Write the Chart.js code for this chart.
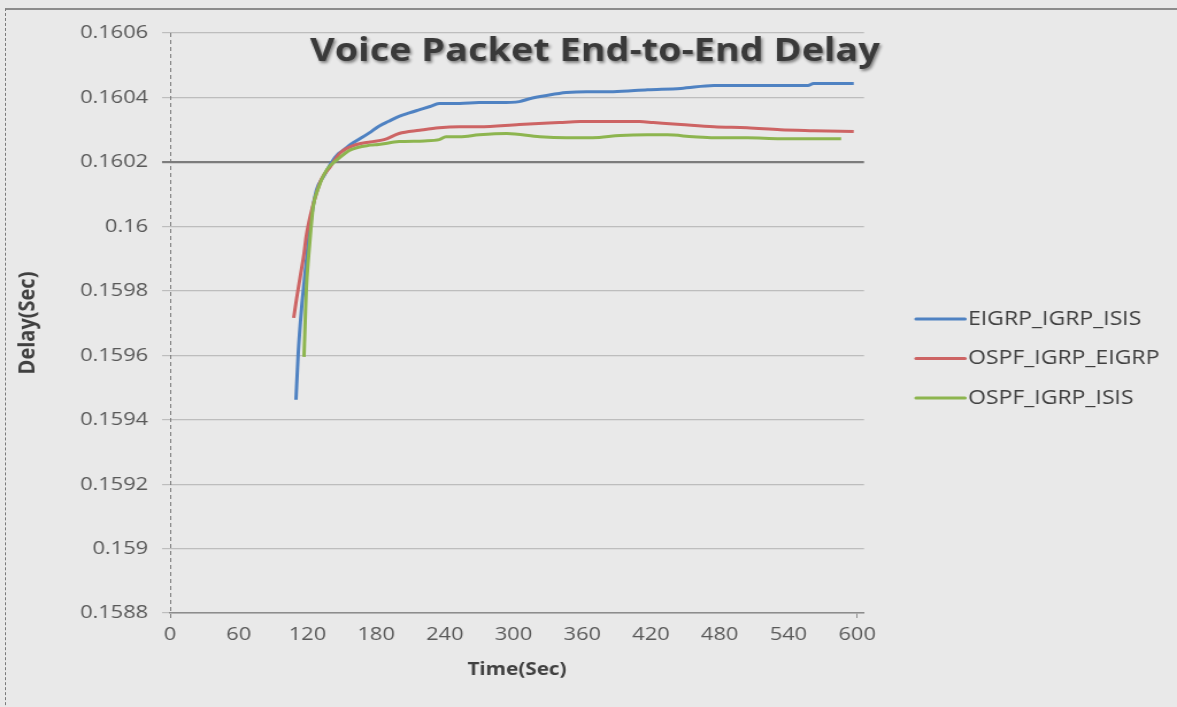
<!DOCTYPE html>
<html>
<head>
<meta charset="utf-8">
<title>Voice Packet End-to-End Delay</title>
<script src="https://cdn.jsdelivr.net/npm/chart.js@4.4.1/dist/chart.umd.min.js"></script>
<style>
  html, body { margin: 0; padding: 0; background: #e9e9e9; overflow: hidden; width: 1177px; height: 707px; }
  #frame { position: absolute; left: 5px; top: 8px; width: 1300px; height: 800px;
           border-top: 2px solid #8c8c8c; border-left: 1px dashed #7a7a7a; }
  /* the drawing is rendered narrow and widened horizontally */
  #wrap { position: absolute; left: 0; top: 0; width: 1024px; height: 707px;
          transform: scaleX(1.1494140625); transform-origin: 0 0; }
</style>
</head>
<body>
<div id="frame"></div>
<div id="wrap"><canvas id="c"></canvas></div>
<script>
// ---- data ----
const seriesNames = ['EIGRP_IGRP_ISIS', 'OSPF_IGRP_EIGRP', 'OSPF_IGRP_ISIS'];

const eigrpIsisTime  = [110, 112, 115, 118, 121, 124, 128, 134, 141, 147, 152, 158, 165, 174, 182, 191, 200, 209, 218, 227, 235, 253, 270, 288, 305, 314, 329, 346, 364, 387, 417, 446, 475, 504, 533, 557, 562, 597];
const eigrpIsisDelay = [0.159462, 0.159608, 0.159750, 0.159856, 0.159959, 0.160042, 0.160114, 0.160154, 0.160198, 0.160225, 0.160238, 0.160255, 0.160270, 0.160290, 0.160310, 0.160326, 0.160341, 0.160352, 0.160362, 0.160372, 0.160381, 0.160381, 0.160384, 0.160384, 0.160387, 0.160396, 0.160406, 0.160415, 0.160418, 0.160418, 0.160424, 0.160428, 0.160437, 0.160437, 0.160437, 0.160437, 0.160443, 0.160443];

const ospfEigrpTime  = [108, 110.5, 114, 117, 119, 123, 127, 132, 140, 149, 163, 175, 187, 200, 218, 235, 253, 270, 305, 340, 358, 387, 410, 422, 446, 475, 504, 533, 562, 597];
const ospfEigrpDelay = [0.159716, 0.159775, 0.159850, 0.159915, 0.159970, 0.160040, 0.160092, 0.160145, 0.160185, 0.160229, 0.160254, 0.160262, 0.160269, 0.160288, 0.160298, 0.160306, 0.160309, 0.160309, 0.160316, 0.160322, 0.160325, 0.160325, 0.160325, 0.160322, 0.160316, 0.160309, 0.160306, 0.160300, 0.160297, 0.160294];

const ospfIsisTime  = [117, 118, 119, 121, 123, 125, 130, 137, 146, 158, 175, 182, 200, 222, 235, 241, 253, 270, 294, 323, 346, 369, 393, 417, 434, 457, 475, 504, 533, 586];
const ospfIsisDelay = [0.159595, 0.159701, 0.159803, 0.159906, 0.159990, 0.160061, 0.160123, 0.160176, 0.160207, 0.160238, 0.160252, 0.160254, 0.160263, 0.160265, 0.160269, 0.160278, 0.160278, 0.160284, 0.160288, 0.160278, 0.160275, 0.160275, 0.160282, 0.160284, 0.160284, 0.160278, 0.160275, 0.160275, 0.160272, 0.160272];

const xTicks = [0, 60, 120, 180, 240, 300, 360, 420, 480, 540, 600];
const yTicks = [0.1588, 0.159, 0.1592, 0.1594, 0.1596, 0.1598, 0.16, 0.1602, 0.1604, 0.1606];

// ---- layout helpers ----
const S = 1177 / 1024;            // horizontal widening applied to the canvas
const px = v => v / S;            // page x -> canvas x
const FONT = '"Open Sans", "Noto Sans", sans-serif';

const pairs = (t, v) => t.map((x, i) => ({ x: x, y: v[i] }));

// dashed value axis line, drawn under the series
const valueAxisLine = {
  id: 'valueAxisLine',
  beforeDatasetsDraw(chart) {
    const ctx = chart.ctx;
    const a = chart.chartArea;
    ctx.save();
    ctx.strokeStyle = '#7a7a7a';
    ctx.lineWidth = 1;
    ctx.setLineDash([4, 3]);
    ctx.beginPath();
    ctx.moveTo(Math.round(a.left) + 0.5, a.top);
    ctx.lineTo(Math.round(a.left) + 0.5, a.bottom + 7);
    ctx.stroke();
    ctx.restore();
  }
};

const overlay = {
  id: 'overlay',
  afterDraw(chart) {
    const ctx = chart.ctx;
    // chart title inside the plot area
    const title = 'Voice Packet End-to-End Delay';
    ctx.save();
    ctx.font = 'bold 100px ' + FONT;
    const size = 100 * px(570) / ctx.measureText(title).width;
    ctx.font = 'bold ' + size.toFixed(2) + 'px ' + FONT;
    ctx.textAlign = 'center';
    ctx.textBaseline = 'middle';
    ctx.shadowColor = 'rgba(0,0,0,0.45)';
    ctx.shadowBlur = 3;
    ctx.shadowOffsetX = 1.5;
    ctx.shadowOffsetY = 2;
    ctx.fillStyle = '#3a3a3a';
    ctx.fillText(title, px(595), 52);
    ctx.restore();

    // legend on the right
    ctx.save();
    ctx.font = '20px ' + FONT;
    ctx.textAlign = 'left';
    ctx.textBaseline = 'middle';
    chart.data.datasets.forEach((ds, i) => {
      const y = 319 + i * 39.5;
      ctx.strokeStyle = ds.borderColor;
      ctx.lineWidth = 3;
      ctx.lineCap = 'round';
      ctx.beginPath();
      ctx.moveTo(px(916), y);
      ctx.lineTo(px(965), y);
      ctx.stroke();
      ctx.fillStyle = '#404040';
      ctx.fillText(ds.label, px(968), y);
    });
    ctx.restore();
  }
};

const lineStyle = {
  borderWidth: 3,
  pointRadius: 0,
  fill: false,
  cubicInterpolationMode: 'monotone'
};

new Chart(document.getElementById('c'), {
  type: 'line',
  data: {
    datasets: [
      Object.assign({ label: seriesNames[0], data: pairs(eigrpIsisTime, eigrpIsisDelay), borderColor: '#4f82c2', order: 3 }, lineStyle),
      Object.assign({ label: seriesNames[1], data: pairs(ospfEigrpTime, ospfEigrpDelay), borderColor: '#cd6464', order: 2 }, lineStyle),
      Object.assign({ label: seriesNames[2], data: pairs(ospfIsisTime, ospfIsisDelay), borderColor: '#8db54f', order: 1 }, lineStyle)
    ]
  },
  options: {
    responsive: true,
    maintainAspectRatio: false,
    animation: false,
    devicePixelRatio: 1,
    layout: { padding: { left: 0, top: 33, right: 1024 - px(864), bottom: 0 } },
    plugins: { legend: { display: false }, tooltip: { enabled: false } },
    scales: {
      x: {
        type: 'linear',
        min: 0,
        max: 606,
        afterBuildTicks: s => { s.ticks = xTicks.map(v => ({ value: v })); },
        afterFit: s => { s.height = 707 - 613; },
        ticks: {
          autoSkip: false, maxRotation: 0, padding: 5,
          color: '#595959', font: { family: FONT, size: 19 },
          callback: v => String(v)
        },
        grid: {
          drawOnChartArea: false, drawTicks: true, tickLength: 5,
          color: c => (c.tick && c.tick.value === 600) ? '#8c8c8c' : 'rgba(0,0,0,0)'
        },
        border: { display: true, color: '#8c8c8c', width: 1.5 },
        title: {
          display: true, text: 'Time(Sec)', color: '#404040',
          font: { family: FONT, size: 18, weight: 'bold' },
          padding: { top: 0, bottom: 26 }
        }
      },
      y: {
        type: 'linear',
        min: 0.1588,
        max: 0.1606,
        afterBuildTicks: s => { s.ticks = yTicks.map(v => ({ value: v })); },
        afterFit: s => { s.width = px(170); },
        ticks: {
          padding: 12, color: '#595959', font: { family: FONT, size: 19 },
          callback: v => String(+Number(v).toFixed(4))
        },
        grid: {
          drawTicks: true, tickLength: px(8),
          color: c => (c.tick && Math.abs(c.tick.value - 0.1602) < 1e-7) ? '#7c7c7c' : '#bdbdbd',
          lineWidth: c => (c.tick && Math.abs(c.tick.value - 0.1602) < 1e-7) ? 2.2 : 1.2
        },
        border: { display: false },
        title: {
          display: true, text: 'Delay(Sec)', color: '#404040',
          font: { family: FONT, size: 20, weight: 'bold' },
          padding: { top: 12.4, bottom: 0 }
        }
      }
    }
  },
  plugins: [valueAxisLine, overlay]
});
</script>
</body>
</html>
